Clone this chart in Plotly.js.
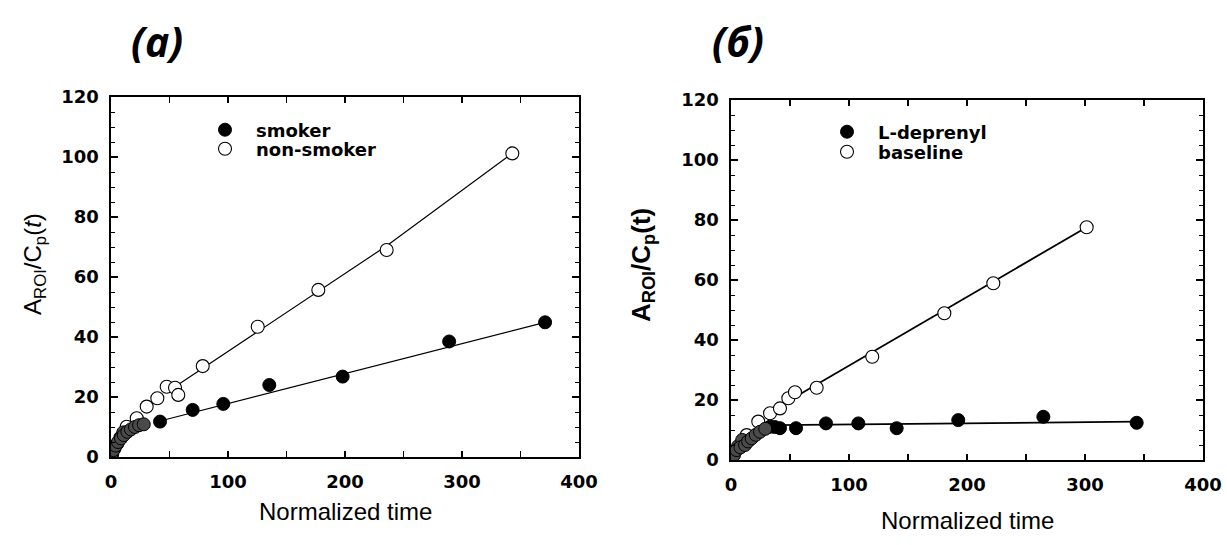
<!DOCTYPE html>
<html>
<head>
<meta charset="utf-8">
<script src="https://cdn.plot.ly/plotly-3.0.1.min.js"></script>
<style>
html,body{margin:0;padding:0;background:#fff;}
#chart{width:1227px;height:545px;}
</style>
</head>
<body>
<div id="chart"></div>
<script>
// ---------- data: panel (а) ----------
const smokerX = [0.5, 2, 4, 6, 8.5, 11, 14, 17, 20.5, 24, 28, 41.9, 69.8, 96, 135.3, 198, 289, 371];
const smokerY = [0.8, 2.3, 3.8, 5.0, 6.2, 7.3, 8.4, 9.2, 10.0, 10.6, 10.9, 11.8, 15.7, 17.7, 24.0, 26.8, 38.5, 44.9];
const nonSmokerX = [1, 3, 5.5, 8, 10.5, 13.4, 22, 30.5, 39.6, 47.6, 54.7, 57.5, 78.4, 125.4, 177.2, 235.6, 343];
const nonSmokerY = [0.9, 2.8, 4.5, 6.5, 8.2, 10.1, 12.9, 16.8, 19.6, 23.4, 23.1, 20.7, 30.3, 43.4, 55.7, 69.0, 101.2];
const smokerFitX = [42, 371];
const smokerFitY = [12.0, 44.9];
const nonSmokerFitX = [55, 236, 343];
const nonSmokerFitY = [23.5, 70.5, 101.2];

// ---------- data: panel (б) ----------
const deprenylX = [0, 2.5, 4.8, 8, 11.9, 14.5, 17.5, 21, 24.6, 29, 33.1, 37, 41.5, 55.1, 80.5, 107.9, 140.4, 192.6, 264.7, 343.8];
const deprenylY = [0, 1.6, 3.3, 4.2, 5.0, 6.2, 7.2, 8.4, 9.4, 10.4, 11.1, 11.0, 10.6, 10.6, 12.2, 12.2, 10.6, 13.3, 14.4, 12.4];
const baselineX = [1, 3, 6, 9.5, 13.3, 23.1, 33.1, 41.5, 48.6, 54.2, 72.6, 119.7, 180.8, 222.3, 301.4];
const baselineY = [0.8, 2.5, 4.6, 6.7, 8.3, 12.8, 15.6, 17.2, 20.6, 22.6, 24.1, 34.4, 48.9, 58.9, 77.6];
const deprenylFitX = [38, 344];
const deprenylFitY = [11.6, 12.8];
const baselineFitX = [50, 301.4];
const baselineFitY = [20.0, 77.6];

// ---------- labels ----------
const panelLabels = ['(а)', '(б)'];
const seriesNames = ['smoker', 'non-smoker', 'L-deprenyl', 'baseline'];
const xTitle = 'Normalized time';
const yTitles = ['A<sub>ROI</sub>/C<sub>p</sub>(<i>t</i>)', '<b>A<sub>ROI</sub>/C<sub>p</sub>(t)</b>'];
const xTickVals = [0, 50, 100, 150, 200, 250, 300, 350, 400];
const xTickText = ['0', '', '100', '', '200', '', '300', '', '400'];
const yTickVals = [0, 20, 40, 60, 80, 100, 120];
const yTickText = ['0', '20', '40', '60', '80', '100', '120'];

// early dense points (overlapping scan texture) drawn in dark grey
const CLUSTER_FILLED = 30;
const CLUSTER_OPEN = 12;

function split(xs, ys, early, cut) {
  const ox = [], oy = [];
  xs.forEach((x, i) => { if ((x < cut) === early) { ox.push(x); oy.push(ys[i]); } });
  return [ox, oy];
}

const MS = 13;
const openMarker = {symbol: 'circle', size: MS, color: '#ffffff', line: {color: '#000', width: 1.1}};
const fillMarker = {symbol: 'circle', size: MS, color: '#000000', line: {color: '#000', width: 1}};
const greyMarker = {symbol: 'circle', size: MS, color: '#4a4a4a', line: {color: '#000', width: 1}};

function lineTrace(x, y, xa, ya, w) {
  return {x, y, xaxis: xa, yaxis: ya, mode: 'lines', line: {color: '#000', width: w}, showlegend: false, hoverinfo: 'skip'};
}
function ptTrace(xy, marker, xa, ya, name, leg, legendId) {
  const t = {x: xy[0], y: xy[1], xaxis: xa, yaxis: ya, mode: 'markers', marker, name, showlegend: leg};
  if (legendId) t.legend = legendId;
  return t;
}

const traces = [
  lineTrace(nonSmokerFitX, nonSmokerFitY, 'x', 'y', 1.2),
  lineTrace(smokerFitX, smokerFitY, 'x', 'y', 1.2),
  ptTrace(split(nonSmokerX, nonSmokerY, false, CLUSTER_OPEN), openMarker, 'x', 'y', seriesNames[1], true, 'legend2'),
  ptTrace(split(smokerX, smokerY, false, CLUSTER_FILLED), fillMarker, 'x', 'y', seriesNames[0], true, 'legend'),
  ptTrace(split(nonSmokerX, nonSmokerY, true, CLUSTER_OPEN), greyMarker, 'x', 'y', seriesNames[1], false),
  ptTrace(split(smokerX, smokerY, true, CLUSTER_FILLED), greyMarker, 'x', 'y', seriesNames[0], false),

  lineTrace(baselineFitX, baselineFitY, 'x2', 'y2', 1.8),
  lineTrace(deprenylFitX, deprenylFitY, 'x2', 'y2', 1.8),
  ptTrace(split(baselineX, baselineY, false, CLUSTER_OPEN), openMarker, 'x2', 'y2', seriesNames[3], true, 'legend4'),
  ptTrace(split(deprenylX, deprenylY, false, CLUSTER_FILLED), fillMarker, 'x2', 'y2', seriesNames[2], true, 'legend3'),
  ptTrace(split(baselineX, baselineY, true, CLUSTER_OPEN), greyMarker, 'x2', 'y2', seriesNames[3], false),
  ptTrace(split(deprenylX, deprenylY, true, CLUSTER_FILLED), greyMarker, 'x2', 'y2', seriesNames[2], false)
];

const W = 1227, H = 545;
const tickFont = {family: 'DejaVu Sans', size: 18, color: '#000', weight: 'bold'};

function xaxis(dom, anchor) {
  return {
    domain: dom, anchor, range: [0, 400], tickmode: 'array', tickvals: xTickVals, ticktext: xTickText,
    ticks: 'inside', ticklen: 6, tickwidth: 1.3, tickcolor: '#000', mirror: 'allticks',
    showline: true, linecolor: '#000', linewidth: 1.6, showgrid: false, zeroline: false,
    tickfont: tickFont, ticklabelstandoff: 8, fixedrange: true
  };
}
function yaxis(dom, anchor) {
  return {
    domain: dom, anchor, range: [0, 120], tickmode: 'array', tickvals: yTickVals, ticktext: yTickText,
    ticks: 'inside', ticklen: 7, tickwidth: 1.3, tickcolor: '#000', mirror: 'allticks',
    minor: {dtick: 5, ticks: 'inside', ticklen: 4, tickwidth: 1, tickcolor: '#000', showgrid: false},
    showline: true, linecolor: '#000', linewidth: 1.6, showgrid: false, zeroline: false,
    tickfont: tickFont, ticklabelstandoff: 7, fixedrange: true
  };
}

const legendFont = {family: 'DejaVu Sans', size: 18, color: '#000', weight: 'bold'};
// itemwidth 52 -> symbol centre 31px from legend left, text at 62px
function legendAt(markerX, rowY) {
  return {x: (markerX - 31) / W, y: 1 - rowY / H, xanchor: 'left', yanchor: 'middle',
          bgcolor: 'rgba(0,0,0,0)', borderwidth: 0, font: legendFont, itemwidth: 52};
}

const layout = {
  width: W, height: H,
  margin: {l: 0, r: 0, t: 0, b: 0},
  paper_bgcolor: '#fff', plot_bgcolor: '#fff',
  showlegend: true,
  xaxis: xaxis([111 / W, 579 / W], 'y'),
  yaxis: yaxis([1 - 457 / H, 1 - 97 / H], 'x'),
  xaxis2: xaxis([731 / W, 1203 / W], 'y2'),
  yaxis2: yaxis([1 - 460 / H, 1 - 100 / H], 'x2'),
  legend: legendAt(225, 130),
  legend2: legendAt(225, 149),
  legend3: legendAt(847, 132),
  legend4: legendAt(847, 152),
  annotations: [
    {text: '<b><i>' + panelLabels[0] + '</i></b>', xref: 'paper', yref: 'paper', x: 157 / W, y: 1 - 41 / H,
     showarrow: false, xanchor: 'center', yanchor: 'middle', font: {family: 'Open Sans', size: 41, color: '#000'}},
    {text: '<b><i>' + panelLabels[1] + '</i></b>', xref: 'paper', yref: 'paper', x: 738 / W, y: 1 - 41 / H,
     showarrow: false, xanchor: 'center', yanchor: 'middle', font: {family: 'Open Sans', size: 41, color: '#000'}},
    {text: xTitle, xref: 'paper', yref: 'paper', x: 345 / W, y: 1 - 511 / H, showarrow: false,
     xanchor: 'center', yanchor: 'middle', font: {family: 'Liberation Sans', size: 24, color: '#000'}},
    {text: xTitle, xref: 'paper', yref: 'paper', x: 967 / W, y: 1 - 520 / H, showarrow: false,
     xanchor: 'center', yanchor: 'middle', font: {family: 'Liberation Sans', size: 24, color: '#000'}},
    {text: yTitles[0], xref: 'paper', yref: 'paper', x: 34 / W, y: 1 - 264 / H, showarrow: false, textangle: -90,
     xanchor: 'center', yanchor: 'middle', font: {family: 'Liberation Sans', size: 24, color: '#000'}},
    {text: yTitles[1], xref: 'paper', yref: 'paper', x: 642 / W, y: 1 - 265 / H, showarrow: false, textangle: -90,
     xanchor: 'center', yanchor: 'middle', font: {family: 'Liberation Sans', size: 26, color: '#000'}}
  ]
};

Plotly.newPlot('chart', traces, layout, {staticPlot: true, displayModeBar: false});
</script>
</body>
</html>
